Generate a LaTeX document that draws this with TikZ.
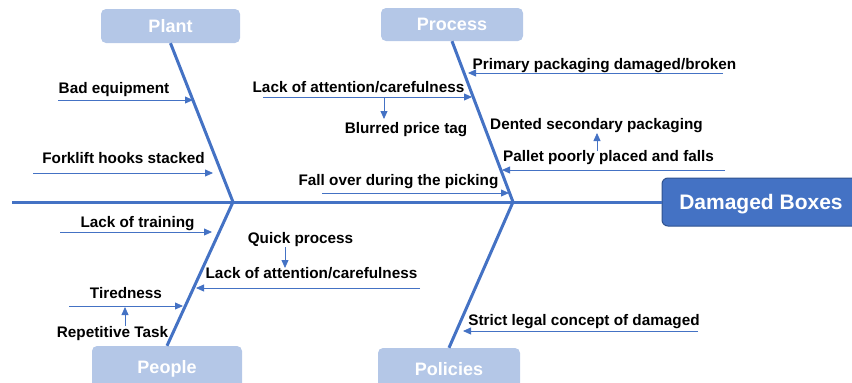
\documentclass[tikz,border=0pt]{standalone}
\usepackage{fontspec}
\setmainfont{Liberation Sans}
\usetikzlibrary{positioning, arrows.meta}

\definecolor{boneblue}{HTML}{4472C4}
\definecolor{headedge}{HTML}{2F528F}
\definecolor{catfill}{HTML}{B4C7E7}

\tikzset{
  bone/.style={draw=boneblue, line width=3pt},
  cause/.style={draw=boneblue, line width=0.8pt, -{Triangle[length=8pt,width=7pt]}},
  causetext/.style={inner sep=0pt, anchor=base, font=\bfseries\fontsize{15.3}{18}\selectfont},
  category/.style={fill=catfill, rounded corners=5pt, text=white, inner sep=0pt,
    text depth=0pt, font=\bfseries\fontsize{18}{20}\selectfont},
  effect/.style={fill=boneblue, draw=headedge, line width=1pt, rounded corners=6pt,
    text=white, inner sep=0pt, text depth=0pt, font=\bfseries\fontsize{21}{24}\selectfont}
}

\begin{document}
\begin{tikzpicture}[x=1pt, y=-1pt]
  \useasboundingbox (0,0) rectangle (852,383);

  % head and category boxes
  \node[effect, minimum width=198pt, minimum height=48pt] (head) at (761,202) {Damaged Boxes};
  \node[category, minimum width=139pt, minimum height=34pt] (plant) at (170.5,26) {Plant};
  \node[category, minimum width=142pt, minimum height=33pt] (process) at (452,24.5) {Process};
  \node[category, minimum width=150pt, minimum height=42pt] (people) at (167,367) {People};
  \node[category, minimum width=142pt, minimum height=42pt] (policies) at (449,369) {Policies};

  % spine and bones
  \coordinate (tail) at (12,202);
  \coordinate (j1) at (233,202);
  \coordinate (j2) at (513,202);
  \draw[bone] (tail) -- (head.west);
  \draw[bone] (plant.south) -- (j1) -- (people.north);
  \draw[bone] (process.south) -- (j2) -- (policies.north);

  % causes
  \node[causetext] (equip) at (114,93.5) {Bad equipment};
  \node[causetext] (forklift) at (123.5,163.5) {Forklift hooks stacked};
  \node[causetext] (primary) at (604.5,69.5) {Primary packaging damaged/broken};
  \node[causetext] (attn1) at (358.5,92.5) {Lack of attention/carefulness};
  \node[causetext] (blurred) at (406,133.5) {Blurred price tag};
  \node[causetext] (dented) at (596.5,129.5) {Dented secondary packaging};
  \node[causetext] (pallet) at (608.5,161.5) {Pallet poorly placed and falls};
  \node[causetext] (fall) at (398.5,185.5) {Fall over during the picking};
  \node[causetext] (training) at (137.5,227.5) {Lack of training};
  \node[causetext] (quick) at (300.5,243.5) {Quick process};
  \node[causetext] (attn2) at (311.5,278.5) {Lack of attention/carefulness};
  \node[causetext] (tired) at (126,298.5) {Tiredness};
  \node[causetext] (repeat) at (112.5,337.5) {Repetitive Task};
  \node[causetext] (strict) at (584,325.5) {Strict legal concept of damaged};

  % arrows into the bones
  \foreach \name/\xa/\xb/\y in {equip/58/193/100, forklift/33/213/173,
      primary/723/468/73, attn1/263/472/97, pallet/725/502/170,
      fall/322/509/193, training/60/212/232, attn2/420/196/288,
      tired/69/183/306, strict/698/463/331}{
    \coordinate (\name-a) at (\xa,\y);
    \coordinate (\name-b) at (\xb,\y);
    \draw[cause] (\name-a) -- (\name-b);
  }

  % sub-causes
  \coordinate (blurred-a) at (384,97);
  \coordinate (blurred-b) at (384,119);
  \draw[cause] (blurred-a) -- (blurred-b);
  \coordinate (dented-a) at (597,151);
  \coordinate (dented-b) at (597,133);
  \draw[cause] (dented-a) -- (dented-b);
  \coordinate (quick-a) at (285,247);
  \coordinate (quick-b) at (285,268);
  \draw[cause] (quick-a) -- (quick-b);
  \coordinate (repeat-a) at (125,326);
  \coordinate (repeat-b) at (125,307);
  \draw[cause] (repeat-a) -- (repeat-b);
\end{tikzpicture}
\end{document}
